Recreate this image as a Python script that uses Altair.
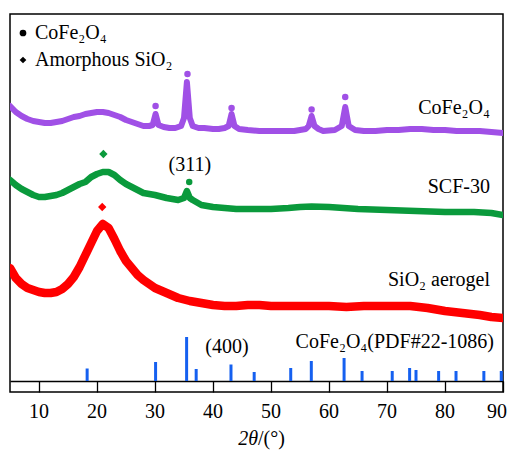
import altair as alt
import pandas as pd

# ---- data (y in arbitrary intensity units) ----
purple_x = [5, 6, 7, 8, 9, 10, 11, 12, 13, 14, 15, 16, 17, 18, 19, 20, 21, 22, 23, 24, 25, 26, 27, 28, 29,
            29.6, 30.1, 30.6, 31.5, 32.5, 33.5, 34.5, 35.0, 35.5, 36.0, 36.5, 37.5, 38.5, 40, 41, 42, 42.7,
            43.2, 43.7, 44.5, 46, 48, 50, 52, 54, 56, 56.5, 57.0, 57.5, 58.2, 59, 61, 62.2, 62.8, 63.4, 64.5,
            66, 68, 70, 72, 74, 76, 78, 80, 82, 84, 86, 88, 90]
purple_y = [275, 269, 265, 262, 260, 259, 258, 258, 259, 260, 262, 264, 265, 267, 268, 269, 269, 268, 266, 264,
            261, 259, 257, 255, 255, 256, 267, 256, 254, 253, 253, 255, 263, 299, 263, 255, 253, 253, 252, 252,
            253, 255, 267, 255, 252, 251, 250, 250, 250, 250, 252, 255, 265, 255, 252, 250, 251, 255, 274, 255,
            251, 250, 250, 251, 251, 252, 252, 251, 251, 250, 250, 250, 249, 248]

green_x = [5, 6, 7, 8, 9, 10, 11, 12, 13, 14, 15, 16, 17, 18, 19, 20, 21, 22, 23, 24, 25, 26, 27, 28, 30, 32,
           34, 35.0, 35.5, 36.0, 36.5, 38, 40, 42, 44, 47, 50, 53, 55, 57, 60, 65, 70, 75, 80, 85, 88, 90]
green_y = [201, 196, 192, 189, 186, 184, 184, 185, 186, 188, 191, 194, 197, 199, 204, 207, 209, 209, 206, 201,
           197, 194, 191, 188, 186, 183, 181, 183, 190, 183, 181, 176, 174, 173, 172, 172, 172, 173, 174, 174.5,
           174, 172, 171, 170, 169, 169, 168, 166]

red_x = [5, 6, 7, 8, 9, 10, 11, 12, 13, 14, 15, 16, 17, 18, 19, 20, 21, 22, 23, 24, 25, 26, 27, 28, 29, 30,
         32, 34, 36, 38, 40, 42, 44, 46, 48, 50, 52, 55, 58, 60, 63, 66, 70, 74, 77, 80, 83, 86, 88, 90]
red_y = [113, 103, 97, 93, 91, 89, 88, 88, 89, 92, 97, 104, 114, 126, 138, 150, 157, 153, 142, 130, 120, 113,
         106, 101, 97, 93, 88, 83, 80, 78, 76, 75, 75, 76, 76, 75, 75, 75, 75, 75, 74, 75, 75, 75, 73, 70, 68,
         66, 64, 63]

# reference pattern CoFe2O4 (PDF#22-1086)
pdf_x = [18.3, 30.1, 35.45, 37.1, 43.1, 47.1, 53.4, 56.95, 62.6, 65.7, 70.9, 73.9, 75.0, 78.9, 81.9, 86.7, 89.7]
pdf_h = [12.5, 19, 44, 12, 16.5, 9, 13, 20, 23, 10, 10, 13, 11, 10, 10, 10, 10]

# peak markers
cfo_mark_x = [30.1, 35.6, 43.2, 57.0, 62.8]
cfo_mark_y = [275, 307, 273, 271.5, 284]
scf_circle_x = [35.9]
scf_circle_y = [199]
diamond_x = [21.1, 20.9]
diamond_y = [227, 174]
diamond_series = ["SCF-30", "SiO2"]

# labels
label_text = ["CoFe₂O₄", "SCF-30", "SiO₂ aerogel", "CoFe₂O₄(PDF#22-1086)"]
label_x = [87.75, 87.75, 87.75, 88.45]
label_y = [273, 194, 101, 39]
hkl_text = ["(311)", "(400)"]
hkl_x = [36.0, 42.4]
hkl_y = [216, 34]
legend_text = ["CoFe₂O₄", "Amorphous SiO₂"]
legend_y = [348, 321]
legend_mark_x = 7.24
legend_text_x = 9.3

x_ticks = [10, 20, 30, 40, 50, 60, 70, 80, 90]
x_tick_labels = ["10", "20", "30", "40", "50", "60", "70", "80", "90"]

PURPLE = "#a050e6"
GREEN = "#0a9a3c"
RED = "#ff0000"
BLUE = "#1560f0"
FONT = "Liberation Serif"

xs = alt.Scale(domain=[5, 90], nice=False, zero=False)
ys = alt.Scale(domain=[-11, 367], nice=False, zero=False)
x_axis = alt.Axis(values=x_ticks, title=None, labels=False, tickColor="black", domainColor="black",
                  tickWidth=1.3, domainWidth=1.3, tickSize=11, offset=-11, grid=False)
X = lambda f: alt.X(f, type="quantitative", scale=xs, axis=x_axis)
Y = lambda f: alt.Y(f, type="quantitative", scale=ys, axis=None)

def line(xv, yv, color, w):
    df = pd.DataFrame({"x": xv, "y": yv})
    return alt.Chart(df).mark_line(color=color, strokeWidth=w, strokeJoin="round",
                                   strokeCap="round", clip=True).encode(x=X("x"), y=Y("y"))

purple = line(purple_x, purple_y, PURPLE, 6)
green = line(green_x, green_y, GREEN, 6.5)
red = line(red_x, red_y, RED, 8.5)

pdf_df = pd.DataFrame({"x": pdf_x, "h": pdf_h, "b": [0] * len(pdf_x)})
sticks = alt.Chart(pdf_df).mark_rule(color=BLUE, strokeWidth=3, clip=True).encode(
    x=X("x"), y=Y("b"), y2="h")

cfo_df = pd.DataFrame({"x": cfo_mark_x, "y": cfo_mark_y})
cfo_pts = alt.Chart(cfo_df).mark_point(shape="circle", filled=True, size=42, color=PURPLE,
                                       opacity=1).encode(x=X("x"), y=Y("y"))
scf_df = pd.DataFrame({"x": scf_circle_x, "y": scf_circle_y})
scf_pts = alt.Chart(scf_df).mark_point(shape="circle", filled=True, size=42, color=GREEN,
                                       opacity=1).encode(x=X("x"), y=Y("y"))
dia_df = pd.DataFrame({"x": diamond_x, "y": diamond_y, "s": diamond_series})
dia_pts = alt.Chart(dia_df).mark_point(shape="diamond", filled=True, size=70, opacity=1).encode(
    x=X("x"), y=Y("y"),
    color=alt.Color("s:N", scale=alt.Scale(domain=["SCF-30", "SiO2"], range=[GREEN, RED]), legend=None))

lab_df = pd.DataFrame({"x": label_x, "y": label_y, "t": label_text})
labels = alt.Chart(lab_df).mark_text(align="right", baseline="middle", font=FONT, fontSize=20,
                                     color="black").encode(x=X("x"), y=Y("y"), text="t:N")
hkl_df = pd.DataFrame({"x": hkl_x, "y": hkl_y, "t": hkl_text})
hkl = alt.Chart(hkl_df).mark_text(align="center", baseline="middle", font=FONT, fontSize=20,
                                  color="black").encode(x=X("x"), y=Y("y"), text="t:N")

tick_df = pd.DataFrame({"x": x_ticks[:-1], "t": x_tick_labels[:-1]})
tick_labels = alt.Chart(tick_df).mark_text(align="center", baseline="middle", font=FONT, fontSize=20,
                                           color="black").encode(x=X("x"), y=alt.value(398), text="t:N")
last_df = pd.DataFrame({"x": x_ticks[-1:], "t": x_tick_labels[-1:]})
last_label = alt.Chart(last_df).mark_text(align="right", baseline="middle", font=FONT, fontSize=20,
                                          color="black", dx=4).encode(x=X("x"), y=alt.value(398), text="t:N")

leg_df = pd.DataFrame({"x": [legend_mark_x] * 2, "tx": [legend_text_x] * 2, "y": legend_y,
                       "t": legend_text, "shape": ["circle", "diamond"]})
leg_marks = alt.Chart(leg_df).mark_point(filled=True, color="black", size=45, opacity=1).encode(
    x=X("x"), y=Y("y"),
    shape=alt.Shape("shape:N", scale=alt.Scale(domain=["circle", "diamond"], range=["circle", "diamond"]),
                    legend=None))
leg_text = alt.Chart(leg_df).mark_text(align="left", baseline="middle", font=FONT, fontSize=20,
                                       color="black").encode(x=X("tx"), y=Y("y"), text="t:N")

title_df = pd.DataFrame({"a": ["2θ"], "b": ["/(°)"]})
title_a = alt.Chart(title_df).mark_text(align="right", baseline="middle", font=FONT, fontSize=20,
                                        fontStyle="italic", color="black").encode(
    x=alt.value(248), y=alt.value(425), text="a:N")
title_b = alt.Chart(title_df).mark_text(align="left", baseline="middle", font=FONT, fontSize=20,
                                        color="black").encode(
    x=alt.value(248), y=alt.value(425), text="b:N")

chart = alt.layer(purple, green, red, sticks, cfo_pts, scf_pts, dia_pts, labels, hkl, tick_labels,
                  last_label, leg_marks, leg_text, title_a, title_b).properties(
    width=493, height=378,
    padding={"left": 2, "top": 6, "right": 4, "bottom": 58},
    autosize=alt.AutoSizeParams(type="none"),
    background="white",
).configure_view(stroke="black", strokeWidth=1.5)

chart.save("out.html", embed_options={"renderer": "svg", "actions": False})
